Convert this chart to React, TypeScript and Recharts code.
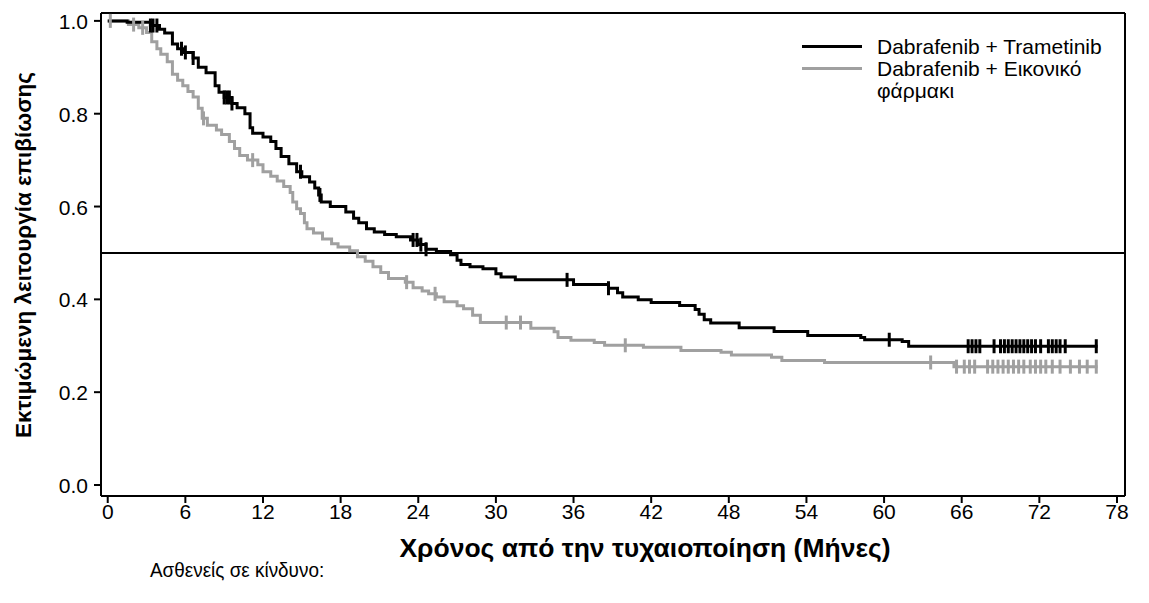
import React from 'react';
import { ComposedChart, Line, Scatter, XAxis, YAxis, ReferenceLine } from 'recharts';

// x ticks (months) and y ticks (survival probability)
const monthTicks = [0, 6, 12, 18, 24, 30, 36, 42, 48, 54, 60, 66, 72, 78];
const survivalTicks = [0, 0.2, 0.4, 0.6, 0.8, 1.0];

// Dabrafenib + Trametinib, KM step points
const combTimes = [
  0, 1.5, 3.3, 4.0, 4.4, 5.0, 5.4, 5.9, 6.6, 7.0, 7.6, 8.3, 8.6, 9.0, 9.6, 10.0, 10.6, 11.0, 11.2,
  12.0, 12.6, 13.0, 13.4, 14.0, 14.6, 15.0, 15.6, 16.0, 16.3, 16.5, 17.2, 18.4, 19.0, 19.4, 20.0,
  20.6, 21.4, 22.3, 23.4, 24.0, 24.6, 25.4, 26.5, 27.0, 27.3, 28.0, 29.0, 30.0, 30.4, 31.5, 36.0,
  38.7, 39.4, 39.8, 41.0, 42.0, 44.2, 45.4, 45.7, 46.1, 46.6, 48.8, 51.5, 54.1, 58.2, 58.5, 61.4,
  61.9, 76.5,
];
const combSurv = [
  1.0, 0.997, 0.99, 0.982, 0.974, 0.95, 0.94, 0.932, 0.92, 0.9, 0.888, 0.86, 0.846, 0.835, 0.822,
  0.813, 0.8, 0.77, 0.758, 0.75, 0.74, 0.725, 0.708, 0.692, 0.675, 0.664, 0.653, 0.64, 0.625, 0.61,
  0.6, 0.588, 0.575, 0.565, 0.552, 0.545, 0.54, 0.535, 0.528, 0.518, 0.508, 0.503, 0.496, 0.484,
  0.475, 0.47, 0.466, 0.455, 0.448, 0.442, 0.432, 0.424, 0.414, 0.405, 0.399, 0.393, 0.387, 0.378,
  0.368, 0.356, 0.349, 0.339, 0.331, 0.322, 0.318, 0.313, 0.309, 0.299, 0.299,
];
const combCensor = [
  3.3, 3.5, 3.8, 5.7, 6.0, 6.6, 9.0, 9.2, 9.4, 9.6, 14.9, 16.4, 23.6, 23.9, 24.2, 24.6, 35.5, 38.7,
  60.4, 66.5, 66.8, 67.1, 67.4, 68.5, 69.0, 69.3, 69.6, 69.9, 70.2, 70.5, 70.8, 71.1, 71.4, 71.7,
  72.1, 72.7, 73.0, 73.3, 73.6, 74.0, 76.4,
];

// Dabrafenib + placebo, KM step points
const placTimes = [
  0, 1.6, 2.4, 3.0, 3.4, 3.8, 4.1, 4.6, 5.0, 5.4, 5.8, 6.2, 6.6, 7.0, 7.3, 7.7, 8.4, 8.8, 9.4, 9.8,
  10.2, 10.8, 11.6, 12.0, 12.6, 13.1, 13.6, 14.1, 14.3, 14.6, 14.9, 15.2, 15.4, 15.9, 16.6, 17.3,
  17.8, 18.7, 19.3, 19.9, 20.5, 21.1, 21.7, 23.0, 23.6, 24.3, 24.8, 25.4, 26.0, 27.0, 27.5, 28.2,
  28.8, 32.7, 34.5, 34.8, 35.8, 37.6, 38.4, 41.4, 44.3, 47.4, 48.2, 51.3, 52.1, 55.4, 65.4, 76.5,
];
const placSurv = [
  1.0, 0.992, 0.985, 0.975, 0.955, 0.94, 0.928, 0.912, 0.885, 0.872, 0.86, 0.848, 0.836, 0.812,
  0.79, 0.775, 0.765, 0.755, 0.74, 0.725, 0.71, 0.7, 0.69, 0.675, 0.665, 0.655, 0.643, 0.63, 0.61,
  0.595, 0.585, 0.565, 0.552, 0.543, 0.53, 0.52, 0.513, 0.505, 0.492, 0.482, 0.47, 0.458, 0.445,
  0.437, 0.425, 0.418, 0.412, 0.405, 0.395, 0.386, 0.38, 0.366, 0.35, 0.338, 0.33, 0.318, 0.312,
  0.307, 0.301, 0.297, 0.29, 0.286, 0.28, 0.275, 0.268, 0.264, 0.255, 0.255,
];
const placCensor = [
  0.2, 2.0, 2.7, 7.4, 11.2, 23.1, 25.3, 30.8, 31.9, 40.0, 63.6, 65.6, 66.2, 66.6, 67.0, 68.0, 68.4,
  68.8, 69.2, 69.6, 70.0, 70.4, 70.8, 71.3, 71.7, 72.1, 72.5, 73.0, 73.6, 74.4, 75.1, 75.7, 76.4,
];

const legendItems = [
  { name: 'Dabrafenib + Trametinib', color: '#000000' },
  { name: 'Dabrafenib + Εικονικό φάρμακι', color: '#a0a0a0' },
];

const X_MIN = -0.52;
const X_MAX = 78.62;
const Y_MIN = -0.0237;
const Y_MAX = 1.017;

const FONT = '"Liberation Sans", Arial, sans-serif';

const toSteps = (times: number[], surv: number[]) => times.map((t, i) => ({ t, s: surv[i] }));

// level of the KM step curve at a censoring time
const survivalAt = (times: number[], surv: number[], t: number) => {
  let v = surv[0];
  for (let i = 0; i < times.length; i++) if (times[i] <= t) v = surv[i];
  return v;
};

const combData = toSteps(combTimes, combSurv);
const placData = toSteps(placTimes, placSurv);
const combCensorData = combCensor.map((t) => ({ t, s: survivalAt(combTimes, combSurv, t) }));
const placCensorData = placCensor.map((t) => ({ t, s: survivalAt(placTimes, placSurv, t) }));

const censorMark = (color: string) => (props: any) => {
  const { cx, cy } = props;
  return <line x1={cx} x2={cx} y1={cy - 7} y2={cy + 7} stroke={color} strokeWidth={3} />;
};

const XTick = (props: any) => {
  const { x, y, payload } = props;
  return (
    <text x={x} y={y + 16} textAnchor="middle" fontSize={21} fontFamily={FONT} fill="#000">
      {payload.value}
    </text>
  );
};

const YTick = (props: any) => {
  const { y, payload } = props;
  return (
    <text x={88} y={y + 8} textAnchor="end" fontSize={21} fontFamily={FONT} fill="#000">
      {Number(payload.value).toFixed(1)}
    </text>
  );
};

export default function App() {
  return (
    <div
      style={{
        position: 'absolute',
        left: 0,
        top: 0,
        width: 1149,
        height: 603,
        background: '#fff',
        fontFamily: FONT,
        color: '#000',
      }}
    >
      <ComposedChart width={1149} height={603} margin={{ top: 13, right: 24, left: 41, bottom: 77 }}>
        <XAxis
          type="number"
          dataKey="t"
          domain={[X_MIN, X_MAX]}
          ticks={monthTicks}
          allowDataOverflow
          interval={0}
          height={30}
          tickSize={7}
          tickMargin={0}
          axisLine={{ stroke: '#000', strokeWidth: 2 }}
          tickLine={{ stroke: '#000', strokeWidth: 2 }}
          tick={<XTick />}
        />
        <YAxis
          type="number"
          domain={[Y_MIN, Y_MAX]}
          ticks={survivalTicks}
          allowDataOverflow
          interval={0}
          width={60}
          tickSize={7}
          tickMargin={0}
          axisLine={{ stroke: '#000', strokeWidth: 2 }}
          tickLine={{ stroke: '#000', strokeWidth: 2 }}
          tick={<YTick />}
        />
        <ReferenceLine y={Y_MAX} stroke="#000" strokeWidth={2} />
        <ReferenceLine x={X_MAX} stroke="#000" strokeWidth={2} />
        <ReferenceLine y={0.5} stroke="#000" strokeWidth={2} />
        <Line
          data={placData}
          dataKey="s"
          type="stepAfter"
          stroke="#a0a0a0"
          strokeWidth={3}
          dot={false}
          activeDot={false}
          isAnimationActive={false}
        />
        <Scatter data={placCensorData} dataKey="s" shape={censorMark('#a0a0a0')} isAnimationActive={false} />
        <Line
          data={combData}
          dataKey="s"
          type="stepAfter"
          stroke="#000"
          strokeWidth={3}
          dot={false}
          activeDot={false}
          isAnimationActive={false}
        />
        <Scatter data={combCensorData} dataKey="s" shape={censorMark('#000')} isAnimationActive={false} />
      </ComposedChart>

      {/* legend */}
      <div style={{ position: 'absolute', left: 802, top: 36, fontSize: 21, lineHeight: '22px' }}>
        {legendItems.map((item) => (
          <div key={item.name} style={{ display: 'flex', alignItems: 'flex-start' }}>
            <div style={{ width: 60, height: 3, background: item.color, marginTop: 9, marginRight: 15 }} />
            <div style={{ width: 240 }}>{item.name}</div>
          </div>
        ))}
      </div>

      {/* axis titles */}
      <div
        style={{
          position: 'absolute',
          left: 24,
          top: 255,
          transform: 'translate(-50%, -50%) rotate(-90deg)',
          whiteSpace: 'nowrap',
          fontSize: 22.5,
          fontWeight: 'bold',
        }}
      >
        Εκτιμώμενη λειτουργία επιβίωσης
      </div>
      <div
        style={{
          position: 'absolute',
          left: 645,
          top: 548,
          transform: 'translate(-50%, -50%)',
          whiteSpace: 'nowrap',
          fontSize: 26.5,
          fontWeight: 'bold',
        }}
      >
        Χρόνος από την τυχαιοποίηση (Μήνες)
      </div>
      <div
        style={{
          position: 'absolute',
          left: 150,
          top: 570,
          transform: 'translateY(-50%) scaleX(0.9)',
          transformOrigin: 'left center',
          whiteSpace: 'nowrap',
          fontSize: 21,
        }}
      >
        Ασθενείς σε κίνδυνο:
      </div>
    </div>
  );
}
